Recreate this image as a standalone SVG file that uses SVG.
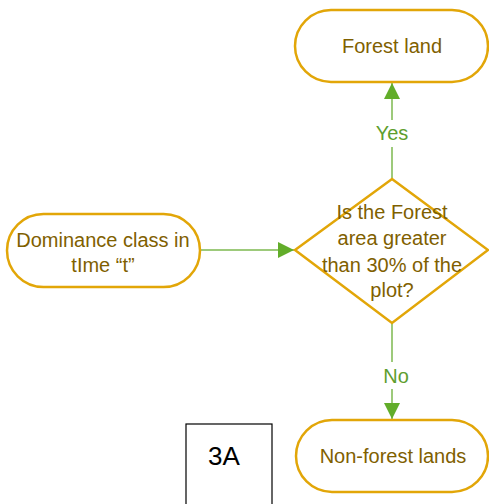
<svg xmlns="http://www.w3.org/2000/svg" width="489" height="504" viewBox="0 0 489 504">
<defs>
<style>
.n{fill:#fff;stroke:#E2A608;stroke-width:2.5}
.t{font-family:"Liberation Sans",Arial,sans-serif;font-size:20px;fill:#7F6000;text-anchor:middle}
.c{stroke:#7DB94F;stroke-width:1.5;fill:none}
.l{font-family:"Liberation Sans",Arial,sans-serif;font-size:20px;fill:#5E9E2E;text-anchor:middle}
</style>
<marker id="ah2" viewBox="0 0 16 16" refX="16" refY="8" markerWidth="16" markerHeight="16" markerUnits="userSpaceOnUse" orient="auto">
<path d="M0,0 L16,8 L0,16 Z" fill="#62AD2A"/>
</marker>
</defs>
<g id="connectors">
<path class="c" d="M200,250 L294,250" marker-end="url(#ah2)"/>
<path class="c" d="M392,179 L392,147"/>
<path class="c" d="M392,120 L392,83" marker-end="url(#ah2)"/>
<path class="c" d="M392,323 L392,362"/>
<path class="c" d="M392,389 L392,419" marker-end="url(#ah2)"/>
<text class="l" x="392" y="140">Yes</text>
<text class="l" x="396" y="383">No</text>
</g>
<g id="forest">
<rect class="n" x="295" y="10" width="193" height="72" rx="36"/>
<text class="t" x="392" y="53">Forest land</text>
</g>
<g id="decision">
<polygon class="n" points="392,179 488,250 392,323 295,250"/>
<text class="t" x="392" y="219">Is the Forest</text>
<text class="t" x="392" y="245">area greater</text>
<text class="t" x="392" y="272">than 30% of the</text>
<text class="t" x="392" y="297">plot?</text>
</g>
<g id="dominance">
<rect class="n" x="7" y="214" width="193" height="73" rx="36.5"/>
<text class="t" x="103" y="247">Dominance class in</text>
<text class="t" x="103" y="272">tIme “t”</text>
</g>
<g id="nonforest">
<rect class="n" x="296" y="420" width="192" height="72" rx="36"/>
<text class="t" x="393" y="463">Non-forest lands</text>
</g>
<g id="label3a">
<rect x="186" y="424" width="86" height="82" fill="#fff" stroke="#000" stroke-width="1.2"/>
<text x="224" y="465" font-family="'Liberation Sans',Arial,sans-serif" font-size="26" text-anchor="middle" fill="#000">3A</text>
</g>
</svg>
